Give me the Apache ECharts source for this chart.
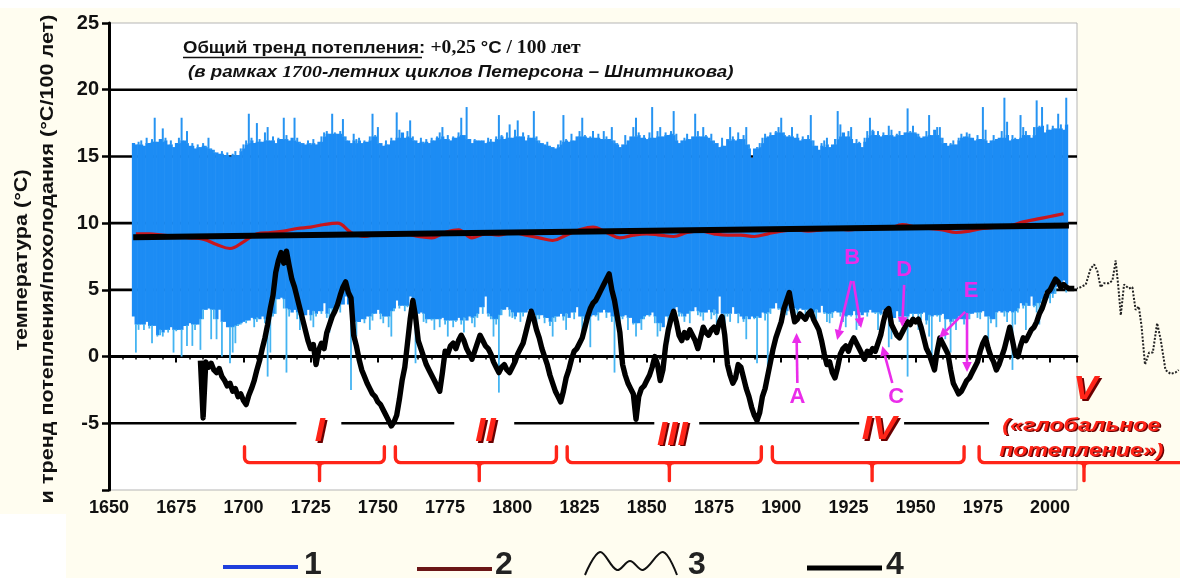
<!DOCTYPE html>
<html>
<head>
<meta charset="utf-8">
<script src="https://cdn.jsdelivr.net/npm/echarts@6/dist/echarts.min.js"></script>
<style>
  html, body { margin: 0; padding: 0; background: #fffdf0; }
  #chart { width: 1180px; height: 578px; }
</style>
</head>
<body>
<div id="chart"></div>
<script>
// ---- Series 1: monthly temperature range per year (warmest / coldest month), °C ----
const firstYear = 1659;
const monthlyHigh = [
  16.0, 15.9, 16.1, 16.2, 15.8, 16.4, 16.0, 16.3, 17.9, 16.1,
  16.3, 17.1, 16.4, 15.9, 16.2, 15.7, 16.0, 16.4, 17.9, 16.2,
  16.9, 15.8, 16.0, 15.6, 15.9, 15.7, 16.0, 15.8, 16.4, 15.6,
  15.5, 15.3, 15.2, 15.4, 15.1, 15.3, 15.0, 15.2, 15.4, 15.1,
  15.6, 15.9, 16.2, 18.2, 16.4, 16.0, 17.5, 16.3, 16.1, 16.8,
  17.2, 16.2, 16.5, 16.0, 16.4, 16.3, 17.9, 16.6, 16.2, 16.4,
  17.9, 16.4, 16.1, 16.0, 15.9, 16.2, 16.0, 16.3, 15.9, 16.1,
  16.5, 16.8, 16.9, 16.7, 18.2, 16.8, 16.7, 16.9, 17.8, 16.5,
  16.2, 16.0, 16.7, 16.3, 16.4, 16.0, 16.2, 16.1, 16.5, 18.2,
  16.6, 17.2, 16.0, 15.8, 16.2, 15.9, 16.4, 16.2, 18.3, 17.0,
  16.8, 16.4, 16.9, 17.7, 16.5, 16.2, 16.0, 16.4, 16.1, 16.3,
  16.0, 16.4, 16.2, 16.5, 16.8, 17.2, 16.3, 16.6, 16.2, 16.5,
  16.4, 16.8, 17.9, 16.6, 18.7, 16.3, 16.0, 16.3, 16.2, 16.2,
  16.2, 16.0, 16.4, 16.3, 16.1, 16.5, 18.1, 16.6, 16.3, 16.8,
  17.4, 16.4, 17.0, 17.7, 16.5, 16.8, 16.2, 16.6, 16.4, 18.4,
  16.5, 16.2, 16.0, 15.9, 16.1, 15.8, 15.7, 15.6, 15.9, 16.2,
  18.1, 16.3, 16.1, 16.7, 16.2, 16.5, 16.9, 17.9, 16.6, 16.4,
  16.5, 16.9, 16.4, 16.7, 16.3, 16.9, 16.5, 16.3, 17.2, 16.2,
  16.0, 15.7, 15.9, 16.6, 16.2, 16.5, 17.2, 17.9, 16.8, 16.4,
  16.6, 16.3, 16.8, 18.7, 16.4, 16.9, 17.2, 16.5, 16.8, 16.6,
  16.9, 18.4, 16.7, 16.0, 16.2, 16.4, 16.7, 16.3, 16.5, 18.2,
  16.9, 16.5, 17.2, 16.6, 16.4, 16.7, 16.2, 16.0, 15.7, 16.4,
  15.8, 16.3, 17.2, 16.5, 16.2, 16.8, 16.3, 16.6, 17.2, 15.9,
  14.9, 15.6, 15.7, 16.0, 16.4, 16.7, 16.5, 16.8, 16.6, 16.9,
  17.2, 17.9, 16.8, 16.5, 16.6, 17.2, 16.4, 16.7, 16.2, 16.5,
  16.3, 16.6, 18.1, 16.2, 15.8, 15.5, 16.0, 16.2, 16.4, 15.7,
  15.9, 16.3, 18.4, 17.4, 16.8, 16.5, 16.9, 17.2, 16.0, 16.3,
  16.1, 15.7, 16.4, 16.9, 17.9, 17.0, 16.6, 16.9, 16.5, 16.8,
  16.6, 17.3, 17.0, 16.5, 16.7, 16.9, 16.6, 16.8, 18.6, 16.9,
  17.3, 16.8, 16.7, 16.4, 16.5, 16.9, 18.1, 16.6, 17.0, 17.2,
  17.2, 16.4, 16.0, 15.8, 16.0, 16.2, 15.9, 16.4, 16.7, 16.5,
  16.8, 16.7, 16.4, 16.2, 16.6, 16.3, 18.7, 17.0, 16.0, 16.2,
  16.6, 16.3, 16.4, 16.9, 19.4, 17.6, 16.2, 16.6, 16.4, 16.3,
  18.1, 17.2, 16.9, 16.6, 16.4, 17.2, 19.2, 17.3, 18.7, 16.8,
  17.4, 17.0, 17.3, 17.1, 18.2, 17.4, 17.0, 19.4
];
const monthlyLow = [
  3.0, 0.3, 2.0, 2.4, 2.0, 2.6, 2.1, 1.0, 2.3, 1.5,
  1.6, 1.5, 2.0, 1.8, 2.2, 0.3, 1.9, 2.0, 0.0, 2.3,
  0.8, 2.5, 0.8, 2.0, 2.4, 0.5, 2.8, 3.5, 3.6, 1.3,
  2.8, 1.3, 3.5, 0.0, 2.6, 2.2, -0.5, 0.3, 1.0, 2.3,
  2.4, 2.6, 2.5, 2.7, 2.9, 2.2, 2.6, 2.8, 3.0, 2.5,
  -1.5, 0.3, 3.0, 3.2, 4.3, 4.4, 3.6, -1.2, 3.0, 3.3,
  3.5, 2.8, 2.0, 2.6, 3.1, 3.5, 2.7, 2.2, 3.0, 3.4,
  3.2, 4.0, 2.9, 1.8, 3.1, 3.6, 3.8, 3.3, 3.9, 4.5,
  3.9, -2.5, 2.2, 1.5, 2.6, 2.8, 2.5, 3.0, 2.0, 2.7,
  3.2, 3.5, 2.8, 2.5, 3.0, 2.2, 1.5, 3.4, 4.2, 3.6,
  3.8, 3.4, 3.7, 4.5, 3.0, -0.5, 3.2, 3.3, 2.6, 2.5,
  2.8, 2.7, 2.0, 2.8, 2.2, 2.9, 2.4, 1.5, 2.7, 2.2,
  2.6, 2.9, 2.4, 1.8, 2.7, 3.0, 2.5, 2.2, 2.9, 3.7,
  3.2, 4.5, 3.0, 2.8, 1.5, 2.4, -2.7, 3.1, 3.5, 3.7,
  3.0, 2.9, 2.8, 3.3, 2.6, 3.0, 3.3, 3.5, 2.7, 3.1,
  2.0, 2.8, 3.1, 2.5, 2.9, 2.3, 1.5, 2.6, 3.0, 3.2,
  2.7, 2.0, 2.9, 3.3, 2.8, 3.7, 3.0, 1.5, 2.6, 2.8,
  0.7, 3.1, 3.0, 2.7, 3.3, 3.5, 2.9, 3.3, 2.6, -1.2,
  3.0, 2.6, 2.8, 3.1, 2.0, 2.9, 2.4, 1.5, 2.5, 2.0,
  2.8, 3.1, 3.0, 3.3, 2.5, 1.5, 1.9, 2.2, 3.0, 1.1,
  2.9, 3.3, 3.7, 3.0, 3.0, 2.6, 3.2, 2.5, 3.4, 3.7,
  3.1, 3.0, 2.7, 3.3, 3.5, 2.8, 3.1, 2.0, 4.5, 3.2,
  1.5, 3.0, 2.6, 3.7, 3.2, 2.5, 3.0, 2.6, 1.3, 2.8,
  3.0, 2.8, -0.5, 2.9, 3.3, 2.7, -0.7, 3.2, 3.6, 4.0,
  3.5, 3.3, 3.0, 3.1, 3.8, 3.4, 3.0, 3.2, 3.6, 3.5,
  3.0, 3.3, 3.5, 3.0, 2.8, 3.3, 3.8, 3.2, 2.6, 2.5,
  2.9, 3.4, 3.3, 3.0, 2.6, 2.2, 3.1, 3.0, 3.4, 2.0,
  2.3, 3.1, 3.3, 3.0, 3.5, 3.3, 3.2, 2.0, 3.1, 3.5,
  2.8, 0.7, 1.3, 2.9, 3.4, 2.6, 2.8, 3.0, -1.5, 3.2,
  2.5, 3.2, 2.0, 2.7, 3.3, 2.4, 1.5, -0.2, 3.1, 3.0,
  2.6, 3.2, 1.3, 2.8, 0.3, 2.6, 2.0, 3.0, 2.8, 2.4,
  2.0, 2.8, 3.2, 3.3, 2.9, 2.8, 3.4, 3.0, 1.3, 2.5,
  2.8, 2.2, 3.4, 3.3, 3.0, 2.6, 3.4, -1.0, 2.4, 3.3,
  4.0, 3.6, 2.0, 3.8, 4.5, 3.7, 3.3, 2.4, 4.0, 4.8,
  4.3, 4.0, 4.4, 4.7, 5.5, 5.2, 5.7, 4.8
];

// ---- Series 2: smoothed annual mean temperature, °C ----
const smoothYears = [
  1660, 1665, 1670, 1675, 1680, 1685, 1690, 1695, 1700, 1705,
  1710, 1715, 1720, 1725, 1730, 1735, 1740, 1745, 1750, 1755,
  1760, 1765, 1770, 1775, 1780, 1785, 1790, 1795, 1800, 1805,
  1810, 1815, 1820, 1825, 1830, 1835, 1840, 1845, 1850, 1855,
  1860, 1865, 1870, 1875, 1880, 1885, 1890, 1895, 1900, 1905,
  1910, 1915, 1920, 1925, 1930, 1935, 1940, 1945, 1950, 1955,
  1960, 1965, 1970, 1975, 1980, 1985, 1990, 1995, 2000, 2005
];
const smoothValues = [
  9.2, 9.2, 9.1, 9.0, 8.9, 8.8, 8.4, 8.1, 8.6, 9.2,
  9.3, 9.4, 9.6, 9.7, 9.9, 10.0, 9.3, 9.0, 9.2, 9.1,
  9.2, 9.0, 8.9, 9.3, 9.5, 8.9, 9.2, 9.1, 9.3, 9.1,
  8.9, 8.7, 9.1, 9.5, 9.7, 9.3, 8.9, 9.1, 9.2, 9.1,
  9.0, 9.3, 9.4, 9.2, 9.1, 9.1, 9.0, 9.2, 9.4, 9.5,
  9.4, 9.5, 9.6, 9.5, 9.6, 9.7, 9.6, 9.9, 9.7, 9.6,
  9.5, 9.3, 9.4, 9.6, 9.7, 9.8, 10.1, 10.3, 10.5, 10.7
];

// ---- Series 4: linear warming trend (+0,25 °C / 100 years) ----
const trendYears = [1659, 2007];
const trendValues = [8.95, 9.82];

// ---- Series 3: warming / cooling rate, °C per 100 years ----
const rateFirstYear = 1684;
const rateValues = [
  -0.3, -4.6, -0.4, -0.8, -0.5, -1.0, -1.2, -0.9, -1.5, -1.8,
  -2.2, -2.0, -2.6, -2.4, -3.0, -2.8, -3.3, -3.6, -2.9, -2.4,
  -1.8, -1.0, -0.3, 0.6, 1.4, 2.4, 3.6, 4.6, 6.3, 7.2,
  7.8, 7.0, 7.9, 6.8, 5.8, 5.2, 4.4, 3.6, 2.8, 2.0,
  1.2, 0.6, 0.9, -0.6, 0.5, 1.0, 0.6, 1.8, 2.4, 3.0,
  3.4, 3.9, 4.6, 5.2, 5.6, 4.8, 4.4, 1.6, 0.8, -0.2,
  -1.0, -1.5, -2.0, -2.4, -2.8, -3.0, -3.4, -3.6, -4.0, -4.4,
  -4.8, -5.2, -4.9, -4.4, -3.2, -1.8, -0.8, 1.0, 2.8, 4.2,
  3.0, 1.2, 0.6, 0.0, -0.6, -1.0, -1.4, -1.8, -2.2, -2.6,
  -1.2, 0.4, 0.2, 0.8, 1.0, 0.6, 1.2, 1.6, 1.2, 0.6,
  0.2, -0.2, 0.4, 1.0, 1.6, 1.2, 0.8, 0.6, 0.2, -0.4,
  -0.8, -1.2, -0.8, -0.6, -1.0, -1.2, -0.8, -0.4, 0.2, 0.6,
  1.0, 1.8, 2.6, 3.4, 2.8, 2.0, 1.4, 0.6, 0.0, -0.6,
  -1.4, -2.0, -2.6, -3.0, -3.4, -2.6, -1.6, -1.0, -0.2, 0.4,
  0.6, 1.0, 1.4, 2.2, 3.0, 3.6, 4.0, 4.2, 4.6, 5.0,
  5.4, 5.8, 6.2, 5.0, 4.2, 3.0, 1.8, -0.6, -1.4, -2.0,
  -2.4, -2.8, -4.7, -3.0, -2.4, -2.2, -1.8, -1.4, -0.8, 0.0,
  -0.6, -1.8, -1.0, 0.8, 2.0, 2.8, 3.4, 2.6, 1.6, 1.2,
  1.8, 1.4, 2.0, 1.6, 1.2, 0.6, 1.4, 2.2, 1.8, 1.6,
  2.0, 2.2, 1.8, 2.6, 3.0, 1.6, -0.6, -1.4, -2.0, -1.6,
  -0.6, -0.8, -1.6, -2.4, -3.0, -3.8, -4.4, -4.8, -4.2, -3.0,
  -2.4, -1.4, -0.4, 0.6, 1.4, 2.0, 2.6, 3.6, 4.2, 4.8,
  3.6, 2.6, 2.8, 3.2, 3.0, 2.8, 3.2, 3.4, 2.8, 2.4,
  2.0, 1.2, 0.2, -0.6, -0.4, -1.2, -1.6, -0.8, 0.2, 0.6,
  0.8, 0.4, 1.0, 1.4, 1.0, 0.6, 0.2, -0.2, 0.4, 0.2,
  0.6, 0.4, 1.0, 1.6, 2.6, 3.4, 3.6, 2.4, 2.0, 1.6,
  1.4, 1.8, 2.2, 2.6, 2.4, 2.8, 2.6, 2.8, 2.2, 1.4,
  0.6, 0.2, -0.4, -1.0, 0.4, 1.4, 1.0, 0.6, 0.2, -1.0,
  -2.0, -2.4, -2.8, -2.6, -2.2, -1.8, -1.6, -1.2, -0.8, -0.4,
  0.4, 1.0, 1.4, 0.6, 0.0, -0.4, -1.0, -0.6, 0.0, 0.6,
  1.4, 2.2, 1.2, 0.2, 0.0, 0.8, 1.4, 1.2, 1.6, 2.0,
  2.2, 2.6, 3.2, 3.6, 4.2, 4.8, 5.0, 5.4, 5.8, 5.6,
  5.2, 5.4, 5.2, 5.1, 5.1, 5.1
];

// ---- Continuation of series 3 beyond the plotted period (dotted) ----
const forecastYears = [
  2009.2, 2011.0, 2012.9, 2014.7, 2016.0, 2017.2, 2018.4, 2019.7, 2021.5, 2022.8,
  2024.0, 2025.0, 2025.9, 2027.1, 2028.9, 2030.2, 2031.4, 2032.6, 2033.6, 2034.9,
  2036.4, 2037.8, 2039.4, 2040.7, 2042.5, 2044.4, 2046.2, 2047.4
];
const forecastValues = [
  5.1, 5.2, 5.4, 6.6, 6.9, 6.4, 5.2, 5.5, 5.5, 5.7,
  7.2, 5.2, 3.1, 5.4, 5.1, 5.2, 3.5, 3.75, 2.3, -0.6,
  0.3, 0.3, 2.5, 1.3, -1.0, -1.3, -1.2, -1.0
];

// ---- Axis tick labels ----
const yearTicks = [1650, 1675, 1700, 1725, 1750, 1775, 1800, 1825, 1850, 1875, 1900, 1925, 1950, 1975, 2000];
const valueTicks = [-5, 0, 5, 10, 15, 20, 25];

// ---- Period annotations (Roman numerals) ----
const periodNames = ['I', 'II', 'III', 'IV', 'V'];

const FONT = "'Liberation Sans', Arial, sans-serif";
const SERIF = "'Liberation Serif', 'Times New Roman', serif";

const chart = echarts.init(document.getElementById('chart'), null, { renderer: 'canvas' });

const bandData = monthlyHigh.map((h, i) => [firstYear + i, monthlyLow[i], h]);
const smoothData = smoothYears.map((y, i) => [y, smoothValues[i]]);
const trendData = trendYears.map((y, i) => [y, trendValues[i]]);
const rateData = rateValues.map((v, i) => [rateFirstYear + i, v]);
const forecastData = forecastYears.map((y, i) => [y, forecastValues[i]]);

// Horizontal reference lines; -5 line is broken around the period numerals
const solidLevels = [[0], [5], [10], [15], [20]];
const brokenLevelSegments = [[1650, 1719.7], [1736.4, 1778.4], [1800.7, 1852.8], [1869.5, 1929.0], [1945.7, 1977.3]];

// Dense part of the monthly band: a year's column is drawn full width only
// where most of its neighbours overlap it; the rest is drawn as a thin stroke.
function windowValues(arr, i) {
  const out = [];
  for (let k = Math.max(0, i - 2); k <= Math.min(arr.length - 1, i + 2); k++) out.push(arr[k]);
  return out.sort((a, b) => a - b);
}
const denseLow = monthlyLow.map((v, i) => { const w = windowValues(monthlyLow, i); return Math.max(v, w[w.length - 2]); });
const denseHigh = monthlyHigh.map((v, i) => { const w = windowValues(monthlyHigh, i); return Math.min(v, w[1]); });

function renderBand(params, api) {
  const i = params.dataIndex;
  const year = api.value(0), lo = api.value(1), hi = api.value(2);
  const coreLo = denseLow[i];
  const coreHi = denseHigh[i];
  const xl = api.coord([year - 0.5, 0])[0];
  const xr = api.coord([year + 0.5, 0])[0];
  const xc = (xl + xr) / 2;
  const yCoreTop = api.coord([year, coreHi])[1];
  const yCoreBot = api.coord([year, coreLo])[1];
  const children = [{
    type: 'rect',
    shape: { x: xl, y: yCoreTop, width: xr - xl + 0.6, height: yCoreBot - yCoreTop },
    style: { fill: '#1c8cf4' }
  }];
  if (hi > coreHi) {
    const yHi = api.coord([year, hi])[1];
    children.push({ type: 'rect', shape: { x: xc - 1.0, y: yHi, width: 2.0, height: yCoreTop - yHi + 0.5 },
      style: { fill: '#2694f2' } });
  }
  if (lo < coreLo) {
    const yLo = api.coord([year, lo])[1];
    children.push({ type: 'rect', shape: { x: xc - 0.9, y: yCoreBot - 0.5, width: 1.8, height: yLo - yCoreBot + 0.5 },
      style: { fill: '#44b4f2' } });
  }
  return { type: 'group', children };
}

const option = {
  backgroundColor: '#fffdf0',
  animation: false,
  grid: [
    { left: 109, top: 23, width: 968, height: 467, show: true, backgroundColor: '#ffffff', borderColor: '#b5b5b5', borderWidth: 1 },
    { left: 1078, top: 23, width: 102, height: 467, show: false }
  ],
  xAxis: [
    {
      type: 'value', gridIndex: 0, min: 1650, max: 2010, interval: 25,
      axisLine: { lineStyle: { color: '#000', width: 3 } },
      axisTick: { length: 6, lineStyle: { color: '#000', width: 2 } },
      minorTick: { show: true, splitNumber: 5, length: 3, lineStyle: { color: '#000', width: 1.5 } },
      splitLine: { show: false },
      axisLabel: {
        color: '#111', fontFamily: FONT, fontWeight: 'bold', fontSize: 18, margin: 9, showMaxLabel: false,
        formatter: v => (yearTicks.indexOf(v) >= 0 ? String(v) : '')
      }
    },
    { type: 'value', gridIndex: 1, min: 2010, max: 2047.9, show: false }
  ],
  yAxis: [
    {
      type: 'value', gridIndex: 0, min: -10, max: 25, interval: 5,
      axisLine: { show: true, lineStyle: { color: '#000', width: 3 } },
      axisTick: { show: true, length: 7, lineStyle: { color: '#000', width: 2.5 } },
      splitLine: { show: false },
      axisLabel: {
        color: '#111', fontFamily: FONT, fontWeight: 'bold', fontSize: 20, margin: 10,
        formatter: v => (valueTicks.indexOf(v) >= 0 ? String(v) : '')
      }
    },
    { type: 'value', gridIndex: 1, min: -10, max: 25, show: false }
  ],
  series: [
    {
      type: 'custom', name: 'levels', silent: true, z: 1, xAxisIndex: 0, yAxisIndex: 0,
      data: solidLevels,
      renderItem: (params, api) => {
        const cs = params.coordSys;
        const y = api.coord([1650, api.value(0)])[1];
        return { type: 'line', shape: { x1: cs.x, y1: y, x2: cs.x + cs.width, y2: y },
          style: { stroke: '#000', lineWidth: 2.6 } };
      }
    },
    {
      type: 'custom', name: 'levelMinus5', silent: true, z: 1, xAxisIndex: 0, yAxisIndex: 0,
      data: brokenLevelSegments,
      renderItem: (params, api) => {
        const a = api.coord([api.value(0), -5]);
        const b = api.coord([api.value(1), -5]);
        return { type: 'line', shape: { x1: a[0], y1: a[1], x2: b[0], y2: b[1] },
          style: { stroke: '#000', lineWidth: 2.6 } };
      }
    },
    {
      type: 'custom', name: '1', silent: true, z: 2, xAxisIndex: 0, yAxisIndex: 0,
      data: bandData, encode: { x: 0, y: [1, 2] },
      renderItem: renderBand
    },
    {
      type: 'line', name: '2', data: smoothData, z: 3, xAxisIndex: 0, yAxisIndex: 0,
      showSymbol: false, smooth: 0.4, silent: true,
      lineStyle: { color: '#c8161c', width: 3.2 }
    },
    {
      type: 'line', name: '4', data: trendData, z: 4, xAxisIndex: 0, yAxisIndex: 0,
      showSymbol: false, silent: true,
      lineStyle: { color: '#000', width: 6 }
    },
    {
      type: 'line', name: '3', data: rateData, z: 5, xAxisIndex: 0, yAxisIndex: 0,
      showSymbol: false, silent: true,
      lineStyle: { color: '#000', width: 5.4, join: 'round' }
    },
    {
      type: 'line', name: '3*', data: forecastData, z: 5, xAxisIndex: 1, yAxisIndex: 1,
      showSymbol: false, silent: true,
      lineStyle: { color: '#222', width: 2, type: [2, 1.6] }
    }
  ]
};

chart.setOption(option);

// ---- Annotations anchored to data coordinates ----
const px = (x, y) => chart.convertToPixel({ xAxisIndex: 0, yAxisIndex: 0 }, [x, y]);
const RED = '#ff2418';
const SHADE = '#6a0000';
const MAGENTA = '#ea2cea';

const graphics = [];

// white margins of the figure sheet
graphics.push({ type: 'rect', shape: { x: 0, y: 0, width: 1180, height: 8 }, style: { fill: '#ffffff' }, z: -10, silent: true });
graphics.push({ type: 'rect', shape: { x: 0, y: 514, width: 66, height: 64 }, style: { fill: '#ffffff' }, z: -10, silent: true });

// Title
graphics.push({
  type: 'text', x: 183, y: 48, z: 20, scaleX: 1.09,
  style: {
    text: '{u|Общий тренд потепления}{s|: }{n|+0,25 }{c|°C}{n| / 100 лет}',
    verticalAlign: 'middle', align: 'left',
    rich: {
      u: { fontFamily: FONT, fontWeight: 'bold', fontSize: 17, fill: '#111' },
      s: { fontFamily: FONT, fontWeight: 'bold', fontSize: 17, fill: '#111' },
      n: { fontFamily: SERIF, fontWeight: 'bold', fontSize: 18, fill: '#111' },
      c: { fontFamily: FONT, fontWeight: 'bold', fontSize: 17, fill: '#111' }
    }
  }
});
graphics.push({ type: 'line', z: 20, shape: { x1: 183, y1: 57.5, x2: 422, y2: 57.5 }, style: { stroke: '#111', lineWidth: 1.3 } });
graphics.push({
  type: 'text', x: 188, y: 73, z: 20, scaleX: 1.17,
  style: {
    text: '{i|(в рамках }{d|1700}{i|-летних циклов Петерсона – Шнитникова)}',
    verticalAlign: 'middle', align: 'left',
    rich: {
      i: { fontFamily: FONT, fontWeight: 'bold', fontStyle: 'italic', fontSize: 16, fill: '#111' },
      d: { fontFamily: SERIF, fontWeight: 'bold', fontStyle: 'italic', fontSize: 17, fill: '#111' }
    }
  }
});

// Y axis name (two rotated lines)
graphics.push({
  type: 'text', x: 22, y: 260, rotation: Math.PI / 2, scaleX: 1.2, z: 20,
  style: { text: 'температура (°С)', font: `bold 18px ${FONT}`, fill: '#111', align: 'center', verticalAlign: 'middle' }
});
graphics.push({
  type: 'text', x: 48, y: 259, rotation: Math.PI / 2, scaleX: 1.2, z: 20,
  style: { text: 'и тренд потепления/похолодания (°С/100 лет)', font: `bold 18px ${FONT}`, fill: '#111', align: 'center', verticalAlign: 'middle' }
});

// Period brackets (rounded corners approximated by short arcs)
function arcPoints(cx, cy, r, a0, a1) {
  const pts = [];
  for (let k = 0; k <= 4; k++) {
    const a = a0 + (a1 - a0) * k / 4;
    pts.push([cx + r * Math.cos(a), cy + r * Math.sin(a)]);
  }
  return pts;
}
const periodSpans = [
  { from: 1700.4, to: 1752.4, mid: 1728.3 },
  { from: 1756.5, to: 1816.4, mid: 1787.7 },
  { from: 1820.4, to: 1892.6, mid: 1858.4 },
  { from: 1896.7, to: 1968.0, mid: 1933.8 },
  { from: 1973.6, to: 2050.0, mid: 2012.6 }
];
periodSpans.forEach((p, k) => {
  const yTop = px(0, -6.75)[1];
  const yLine = px(0, -7.95)[1];
  const yTick = px(0, -9.3)[1];
  const xl = px(p.from, 0)[0];
  const xr = Math.min(px(p.to, 0)[0], 1186);
  const xm = px(p.mid, 0)[0];
  const r = 5;
  const last = k === periodSpans.length - 1;
  let pts = [[xl, yTop]].concat(arcPoints(xl + r, yLine - r, r, Math.PI, Math.PI / 2));
  if (last) {
    pts.push([xr, yLine]);
  } else {
    pts = pts.concat(arcPoints(xr - r, yLine - r, r, Math.PI / 2, 0));
    pts.push([xr, yTop]);
  }
  const stroke = { stroke: RED, lineWidth: 3.4, fill: null, lineCap: 'round', lineJoin: 'round' };
  graphics.push({ type: 'polyline', z: 15, shape: { points: pts }, style: stroke });
  graphics.push({ type: 'polyline', z: 15, shape: {
    points: [[xm - 4, yLine]].concat(arcPoints(xm - 4, yLine + 4, 4, -Math.PI / 2, 0)).concat([[xm, yTick]])
  }, style: stroke });
  graphics.push({ type: 'polyline', z: 15, shape: {
    points: [[xm + 4, yLine]].concat(arcPoints(xm + 4, yLine + 4, 4, -Math.PI / 2, -Math.PI))
  }, style: stroke });
});

// Roman numerals
const numeralAnchors = [[1728.4, -5.66], [1790.0, -5.66], [1859.5, -5.9], [1936.4, -5.5], [2013.2, -2.5]];
numeralAnchors.forEach((a, k) => {
  const p = px(a[0], a[1]);
  const font = `italic bold 34px ${FONT}`;
  graphics.push({ type: 'text', x: p[0] + 2, y: p[1] + 1.5, z: 16, scaleX: 1.08,
    style: { text: periodNames[k], font, fill: SHADE, align: 'center', verticalAlign: 'middle' } });
  graphics.push({ type: 'text', x: p[0], y: p[1], z: 17, scaleX: 1.08,
    style: { text: periodNames[k], font, fill: RED, align: 'center', verticalAlign: 'middle' } });
});

// Label of period V
[['(«глобальное', -5.2], ['потепление»)', -7.05]].forEach(t => {
  const p = px(2011.6, t[1]);
  const font = `italic bold 19px ${FONT}`;
  graphics.push({ type: 'text', x: p[0] + 1.5, y: p[1] + 1, z: 16, scaleX: 1.22,
    style: { text: t[0], font, fill: SHADE, align: 'center', verticalAlign: 'middle' } });
  graphics.push({ type: 'text', x: p[0], y: p[1], z: 17, scaleX: 1.22,
    style: { text: t[0], font, fill: RED, align: 'center', verticalAlign: 'middle' } });
});

// Event markers A–E with arrows
function arrow(from, to) {
  const a = px(from[0], from[1]);
  const b = px(to[0], to[1]);
  const ang = Math.atan2(b[1] - a[1], b[0] - a[0]);
  const L = 10, W = 4.8;
  const bx = b[0] - L * Math.cos(ang), by = b[1] - L * Math.sin(ang);
  graphics.push({ type: 'line', z: 18, shape: { x1: a[0], y1: a[1], x2: bx, y2: by }, style: { stroke: MAGENTA, lineWidth: 2.6 } });
  graphics.push({ type: 'polygon', z: 18, shape: { points: [
    [b[0], b[1]],
    [bx + W * Math.sin(ang), by - W * Math.cos(ang)],
    [bx - W * Math.sin(ang), by + W * Math.cos(ang)]
  ] }, style: { fill: MAGENTA } });
}
function letter(t, at) {
  const p = px(at[0], at[1]);
  graphics.push({ type: 'text', x: p[0], y: p[1], z: 18,
    style: { text: t, font: `bold 22px ${FONT}`, fill: MAGENTA, align: 'center', verticalAlign: 'middle' } });
}
letter('A', [1906.0, -3.03]);  arrow([1906.0, -1.98], [1905.7, 1.77]);
letter('B', [1926.4, 7.4]);    arrow([1926.0, 5.67], [1920.8, 1.25]); arrow([1926.8, 5.67], [1929.7, 2.15]);
letter('C', [1942.8, -3.03]);  arrow([1941.3, -1.98], [1937.6, 0.8]);
letter('D', [1945.7, 6.5]);    arrow([1945.7, 5.37], [1945.0, 2.22]);
letter('E', [1970.6, 4.9]);    arrow([1968.4, 3.35], [1958.7, 1.40]); arrow([1969.1, 3.27], [1969.1, -1.15]);

// Legend
const legendY = 567;
graphics.push({ type: 'line', z: 20, shape: { x1: 223, y1: legendY, x2: 298, y2: legendY }, style: { stroke: '#1f3fdc', lineWidth: 4 } });
graphics.push({ type: 'line', z: 20, shape: { x1: 417, y1: legendY + 2, x2: 492, y2: legendY + 2 }, style: { stroke: '#6b1616', lineWidth: 4 } });
graphics.push({ type: 'polyline', z: 20, shape: { smooth: 0.35, points: [[585, 575], [600, 552], [617, 570], [630, 561], [643, 570], [663, 552], [677, 575]] },
  style: { stroke: '#111', lineWidth: 2, fill: null } });
graphics.push({ type: 'line', z: 20, shape: { x1: 807, y1: legendY + 1, x2: 882, y2: legendY + 1 }, style: { stroke: '#000', lineWidth: 5 } });
[['1', 304], ['2', 495], ['3', 688], ['4', 886]].forEach(t => {
  graphics.push({ type: 'text', x: t[1], y: 565, z: 20,
    style: { text: t[0], font: `bold 32px ${FONT}`, fill: '#222', align: 'left', verticalAlign: 'middle' } });
});

chart.setOption({ graphic: graphics });
</script>
</body>
</html>
